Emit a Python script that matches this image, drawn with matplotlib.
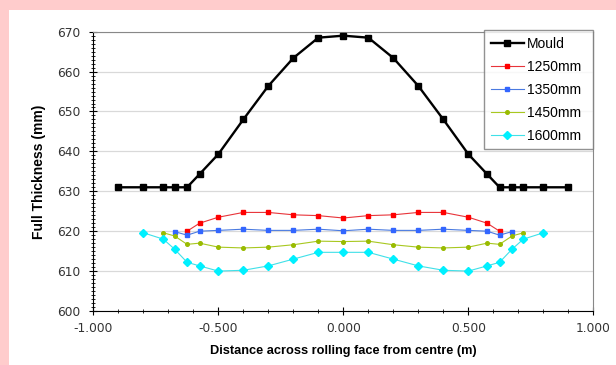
import matplotlib
matplotlib.use('Agg')

import matplotlib.pyplot as plt
from matplotlib.patches import Rectangle
from matplotlib.ticker import MultipleLocator, FormatStrFormatter

plt.rcParams['font.family'] = ['Liberation Sans', 'DejaVu Sans']

# data
mould_x = [-0.9, -0.8, -0.72, -0.675, -0.625, -0.575, -0.5, -0.4, -0.3, -0.2, -0.1, 0.0,
           0.1, 0.2, 0.3, 0.4, 0.5, 0.575, 0.625, 0.675, 0.72, 0.8, 0.9]
mould_y = [631, 631, 631, 631, 631, 634.3, 639.3, 648.0, 656.4, 663.4, 668.5, 669.0,
           668.5, 663.4, 656.4, 648.0, 639.3, 634.3, 631, 631, 631, 631, 631]

w1250_x = [-0.625, -0.575, -0.5, -0.4, -0.3, -0.2, -0.1, 0.0, 0.1, 0.2, 0.3, 0.4, 0.5, 0.575, 0.625]
w1250_y = [620.0, 622.0, 623.5, 624.7, 624.7, 624.1, 623.9, 623.3, 623.9, 624.1, 624.7, 624.7,
           623.5, 622.0, 620.0]

w1350_x = [-0.675, -0.625, -0.575, -0.5, -0.4, -0.3, -0.2, -0.1, 0.0, 0.1, 0.2, 0.3, 0.4, 0.5,
           0.575, 0.625, 0.675]
w1350_y = [619.9, 619.0, 620.0, 620.2, 620.5, 620.2, 620.2, 620.5, 620.1, 620.5, 620.2, 620.2,
           620.5, 620.2, 620.0, 619.0, 619.9]

w1450_x = [-0.72, -0.675, -0.625, -0.575, -0.5, -0.4, -0.3, -0.2, -0.1, 0.0, 0.1, 0.2, 0.3, 0.4,
           0.5, 0.575, 0.625, 0.675, 0.72]
w1450_y = [619.6, 618.8, 616.7, 617.0, 616.0, 615.8, 616.0, 616.6, 617.5, 617.4, 617.5, 616.6,
           616.0, 615.8, 616.0, 617.0, 616.7, 618.8, 619.6]

w1600_x = [-0.8, -0.72, -0.675, -0.625, -0.575, -0.5, -0.4, -0.3, -0.2, -0.1, 0.0, 0.1, 0.2, 0.3,
           0.4, 0.5, 0.575, 0.625, 0.675, 0.72, 0.8]
w1600_y = [619.6, 618.0, 615.5, 612.2, 611.3, 610.0, 610.2, 611.3, 613.0, 614.7, 614.7, 614.7,
           613.0, 611.3, 610.2, 610.0, 611.3, 612.2, 615.5, 618.0, 619.6]

fig = plt.figure(figsize=(6.16, 3.65), dpi=100)
fig.patch.set_facecolor('#ffcccc')
fig.patches.append(Rectangle((9 / 616, 0), 1, 1 - 10 / 365, transform=fig.transFigure,
                             facecolor='white', edgecolor='none', zorder=-10))

ax = fig.add_axes([0.1515, 0.148, 0.8117, 0.7652])
ax.set_zorder(1)
ax.set_facecolor('white')

ax.plot(mould_x, mould_y, color='black', lw=1.7, marker='s', ms=3.8, label='Mould', zorder=5)
ax.plot(w1250_x, w1250_y, color='#e8343a', lw=0.8, marker='s', ms=3.2, mfc='#ff0000', mec='#ff0000',
        label='1250mm', zorder=4)
ax.plot(w1350_x, w1350_y, color='#4a7ae0', lw=0.8, marker='s', ms=3.2, mfc='#3366ff', mec='#3366ff',
        label='1350mm', zorder=4)
ax.plot(w1450_x, w1450_y, color='#a8c820', lw=0.8, marker='o', ms=2.6, mfc='#99bb00', mec='#99bb00',
        label='1450mm', zorder=4)
ax.plot(w1600_x, w1600_y, color='#40e0e8', lw=0.8, marker='D', ms=4.2, mfc='#00f0ff', mec='#00f0ff',
        label='1600mm', zorder=4)

ax.set_xlim(-1.0, 1.0)
ax.set_ylim(600, 670)
ax.xaxis.set_major_locator(MultipleLocator(0.5))
ax.xaxis.set_minor_locator(MultipleLocator(0.1))
ax.xaxis.set_major_formatter(FormatStrFormatter('%.3f'))
ax.yaxis.set_major_locator(MultipleLocator(10))
ax.yaxis.set_minor_locator(MultipleLocator(1))
ax.tick_params(which='major', direction='inout', length=6, width=0.8, pad=5,
               colors='black', labelcolor='#333333')
ax.tick_params(axis='y', which='major', pad=6)
ax.tick_params(which='minor', direction='inout', length=3, width=0.6)
for lab in ax.get_xticklabels() + ax.get_yticklabels():
    lab.set_fontfamily('DejaVu Sans')
    lab.set_fontsize(8.8)
ax.grid(axis='y', which='major', color='#d9d9d9', lw=0.9)
ax.set_axisbelow(True)

for side in ['top', 'right']:
    ax.spines[side].set_color('#888888')
ax.spines['left'].set_color('black')
ax.spines['bottom'].set_color('black')

ax.set_xlabel('Distance across rolling face from centre (m)', fontsize=9.2, fontweight='bold', labelpad=7)
ax.set_ylabel('Full Thickness (mm)', fontsize=10, fontweight='bold', labelpad=8)

leg = ax.legend(loc='upper right', bbox_to_anchor=(0.782, 0.0, 0.218, 1.005), mode='expand',
                fontsize=10, frameon=True, fancybox=False, edgecolor='#777777', borderaxespad=0,
                handlelength=2.4, labelspacing=0.66, borderpad=0.45, handletextpad=0.2)
leg.get_frame().set_linewidth(1.0)

fig.savefig('out.png', dpi=100, facecolor=fig.get_facecolor())
